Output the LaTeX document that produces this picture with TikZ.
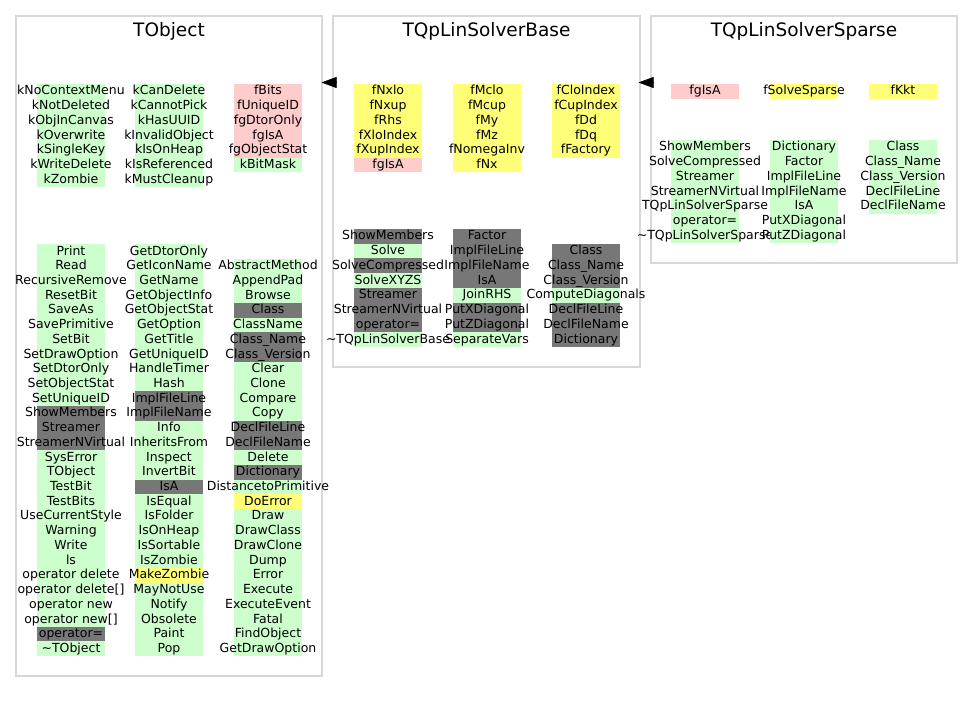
\documentclass[tikz,border=0pt]{standalone}
\usepackage{fontspec}
\setmainfont{DejaVu Sans}
\usetikzlibrary{arrows.meta}
\definecolor{gr}{HTML}{CCFFCC}
\definecolor{pk}{HTML}{FFCCCC}
\definecolor{yl}{HTML}{FFFF77}
\definecolor{dk}{HTML}{777777}
\definecolor{framecol}{HTML}{D8D8D8}
\newcommand\rh{14.72}
\newcommand\mcol[4]{%
  \foreach \ecol/\etxt [count=\i from 0] in {#4} {
    \fill[fill=\ecol] ({#2-34},{#3+\i*\rh}) rectangle ++(68,\rh);
    \node[entry] (#1-\i) at (#2,{#3+\i*\rh+11}) {\etxt};
  }}
\tikzset{
  entry/.style={font=\fontsize{12.5}{14.7}\selectfont, anchor=base, inner sep=0pt},
  ttl/.style={font=\fontsize{18.5}{22}\selectfont, anchor=base, inner sep=0pt},
  panel/.style={draw=framecol, line width=1.3pt, fill=none, inner sep=0pt},
  inh/.style={-{Triangle[length=15pt,width=11pt]}, black, line width=0.4pt}
}
\begin{document}
\begin{tikzpicture}[x=1pt,y=-1pt]
\useasboundingbox[fill=white] (0,0) rectangle (973,703);
% panels
\node[panel, minimum width=306, minimum height=660] (pobj) at (169,346) {};
\node[panel, minimum width=307, minimum height=351] (pbase) at (486.5,191.5) {};
\node[panel, minimum width=306, minimum height=247] (psparse) at (804,139.5) {};
% titles
\node[ttl] (tobj) at (169,37) {TObject};
\node[ttl] (tbase) at (486.5,37) {TQpLinSolverBase};
\node[ttl] (tsparse) at (804,37) {TQpLinSolverSparse};
% inheritance arrowheads
\coordinate (b1) at (336.5,82.5);
\coordinate (t1) at (321.5,82.5);
\coordinate (b2) at (654,82.5);
\coordinate (t2) at (638.5,82.5);
\draw[inh] (b1) -- (t1);
\draw[inh] (b2) -- (t2);
% ---------------- TObject ----------------
\mcol{oa}{71}{84}{gr/kNoContextMenu,gr/kNotDeleted,gr/kObjInCanvas,gr/kOverwrite,gr/kSingleKey,gr/kWriteDelete,gr/kZombie}
\mcol{ob}{169}{84}{gr/kCanDelete,gr/kCannotPick,gr/kHasUUID,gr/kInvalidObject,gr/kIsOnHeap,gr/kIsReferenced,gr/kMustCleanup}
\mcol{oc}{268}{84}{pk/fBits,pk/fUniqueID,pk/fgDtorOnly,pk/fgIsA,pk/fgObjectStat,gr/kBitMask}
\mcol{od}{71}{244}{gr/Print,gr/Read,gr/RecursiveRemove,gr/ResetBit,gr/SaveAs,gr/SavePrimitive,gr/SetBit,gr/SetDrawOption,gr/SetDtorOnly,gr/SetObjectStat,gr/SetUniqueID,dk/ShowMembers,dk/Streamer,dk/StreamerNVirtual,gr/SysError,gr/TObject,gr/TestBit,gr/TestBits,gr/UseCurrentStyle,gr/Warning,gr/Write,gr/ls,gr/operator delete,gr/operator delete[],gr/operator new,gr/operator new[],dk/operator=,gr/\textasciitilde TObject}
\mcol{oe}{169}{244}{gr/GetDtorOnly,gr/GetIconName,gr/GetName,gr/GetObjectInfo,gr/GetObjectStat,gr/GetOption,gr/GetTitle,gr/GetUniqueID,gr/HandleTimer,gr/Hash,dk/ImplFileLine,dk/ImplFileName,gr/Info,gr/InheritsFrom,gr/Inspect,gr/InvertBit,dk/IsA,gr/IsEqual,gr/IsFolder,gr/IsOnHeap,gr/IsSortable,gr/IsZombie,yl/MakeZombie,gr/MayNotUse,gr/Notify,gr/Obsolete,gr/Paint,gr/Pop}
\mcol{of}{268}{258.72}{gr/AbstractMethod,gr/AppendPad,gr/Browse,dk/Class,gr/ClassName,dk/Class\_Name,dk/Class\_Version,gr/Clear,gr/Clone,gr/Compare,gr/Copy,dk/DeclFileLine,dk/DeclFileName,gr/Delete,dk/Dictionary,gr/DistancetoPrimitive,yl/DoError,gr/Draw,gr/DrawClass,gr/DrawClone,gr/Dump,gr/Error,gr/Execute,gr/ExecuteEvent,gr/Fatal,gr/FindObject,gr/GetDrawOption}
% ---------------- TQpLinSolverBase ----------------
\mcol{ba}{388}{84}{yl/fNxlo,yl/fNxup,yl/fRhs,yl/fXloIndex,yl/fXupIndex,pk/fgIsA}
\mcol{bb}{487}{84}{yl/fMclo,yl/fMcup,yl/fMy,yl/fMz,yl/fNomegaInv,yl/fNx}
\mcol{bc}{586}{84}{yl/fCloIndex,yl/fCupIndex,yl/fDd,yl/fDq,yl/fFactory}
\mcol{bd}{388}{229}{dk/ShowMembers,gr/Solve,dk/SolveCompressed,gr/SolveXYZS,dk/Streamer,dk/StreamerNVirtual,dk/operator=,gr/\textasciitilde TQpLinSolverBase}
\mcol{be}{487}{229}{dk/Factor,dk/ImplFileLine,dk/ImplFileName,dk/IsA,gr/JoinRHS,dk/PutXDiagonal,dk/PutZDiagonal,gr/SeparateVars}
\mcol{bf}{586}{243.72}{dk/Class,dk/Class\_Name,dk/Class\_Version,gr/ComputeDiagonals,dk/DeclFileLine,dk/DeclFileName,dk/Dictionary}
% ---------------- TQpLinSolverSparse ----------------
\mcol{sa}{705}{84}{pk/fgIsA}
\mcol{sb}{804}{84}{yl/fSolveSparse}
\mcol{sc}{903}{84}{yl/fKkt}
\mcol{sd}{705}{140}{gr/ShowMembers,gr/SolveCompressed,gr/Streamer,gr/StreamerNVirtual,gr/TQpLinSolverSparse,gr/operator=,gr/\textasciitilde TQpLinSolverSparse}
\mcol{se}{804}{140}{gr/Dictionary,gr/Factor,gr/ImplFileLine,gr/ImplFileName,gr/IsA,gr/PutXDiagonal,gr/PutZDiagonal}
\mcol{sf}{903}{140}{gr/Class,gr/Class\_Name,gr/Class\_Version,gr/DeclFileLine,gr/DeclFileName}
\end{tikzpicture}
\end{document}
